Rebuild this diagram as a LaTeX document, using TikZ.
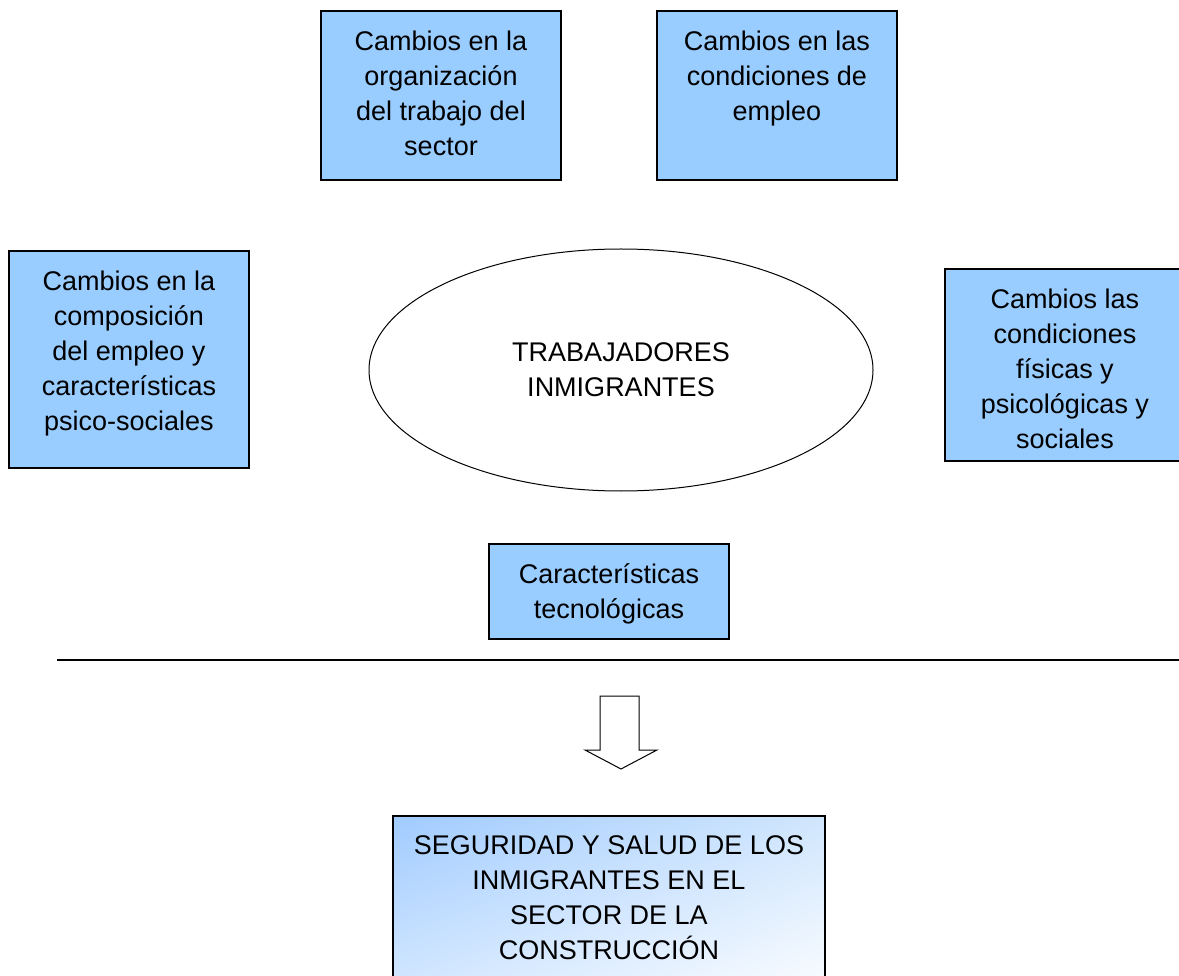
\documentclass[tikz,border=0pt]{standalone}
\usepackage{fontspec}
\setmainfont{Liberation Sans}
\usepackage{tikz}
\usetikzlibrary{shapes.geometric, shadings, positioning}
\definecolor{boxblue}{HTML}{99CCFF}
\definecolor{shadeul}{HTML}{A1CBFF}
\definecolor{shadeur}{HTML}{D0E6FD}
\definecolor{shadell}{HTML}{D2E7FF}
\definecolor{shadelr}{HTML}{FAFCFF}
\tikzset{
    box/.style={rectangle, draw, line width=1.2pt, fill=boxblue, minimum width=240pt, inner sep=0pt},
    boxtext/.style={anchor=north, align=center, inner sep=0pt, font=\fontsize{27}{35}\selectfont, execute at begin node=\strut},
    bubble/.style={ellipse, draw, line width=1pt, minimum width=504pt, minimum height=242pt, align=center, font=\fontsize{27}{35}\selectfont},
    outcome/.style={rectangle, draw, line width=1.2pt, minimum width=432pt, minimum height=172pt, inner sep=0pt,
        upper left=shadeul, upper right=shadeur, lower left=shadell, lower right=shadelr},
    bigarrow/.style={draw, line width=1pt, fill=white}
}

\begin{document}
\begin{tikzpicture}[x=1pt, y=-1pt]
            \useasboundingbox (0,0) rectangle (1179,976);
            % boxes around the workers
            \node (org) [box, minimum height=169pt] at (441,95.5) {};
            \node (cond) [box, minimum height=169pt] at (777,95.5) {};
            \node (comp) [box, minimum height=217pt] at (129,359.5) {};
            \node (fis) [box, minimum height=192pt] at (1065,365) {};
            \node (tec) [box, minimum height=95pt] at (609,591.5) {};
            \node (workers) [bubble] at (621,370) {TRABAJADORES\\INMIGRANTES};

            \node (orgtxt) [boxtext, below=20.5pt of org.north] {Cambios en la\\organización\\del trabajo del\\sector};
            \node (condtxt) [boxtext, below=20.5pt of cond.north] {Cambios en las\\condiciones de\\empleo};
            \node (comptxt) [boxtext, below=20.5pt of comp.north] {Cambios en la\\composición\\del empleo y\\características\\psico-sociales};
            \node (fistxt) [boxtext, below=20.5pt of fis.north] {Cambios las\\condiciones\\físicas y\\psicológicas y\\sociales};
            \node (tectxt) [boxtext, below=20.5pt of tec.north] {Características\\tecnológicas};

            \draw[line width=1.2pt] (57,660) -- (1179,660);
            \draw[bigarrow] (600,696) -- (639,696) -- (639,750) -- (657,750) -- (621,769) -- (585,750) -- (600,750) -- cycle;

            \node (safety) [outcome] at (609,902) {};
            \node (safetytxt) [boxtext, below=20.5pt of safety.north] {SEGURIDAD Y SALUD DE LOS\\INMIGRANTES EN EL\\SECTOR DE LA\\CONSTRUCCIÓN};
        \end{tikzpicture}
\end{document}
